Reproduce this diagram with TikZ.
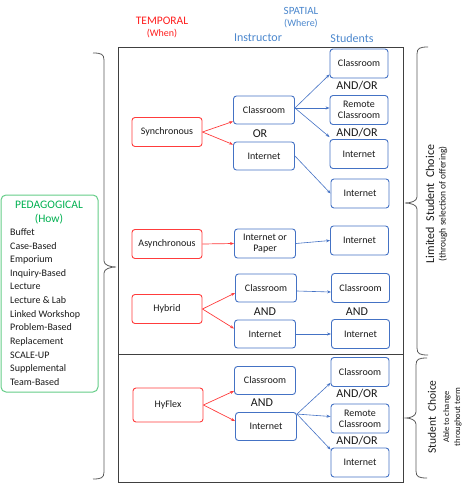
\documentclass[tikz,border=0pt]{standalone}
\usepackage{fontspec}
\setmainfont{Carlito}
\usetikzlibrary{arrows.meta}
\definecolor{tred}{RGB}{255,30,30}
\definecolor{bred}{RGB}{255,60,60}
\definecolor{bblue}{RGB}{68,114,196}
\definecolor{tblue}{RGB}{75,135,205}
\definecolor{pgreen}{RGB}{0,176,80}
\definecolor{gborder}{RGB}{100,205,135}
\definecolor{framec}{RGB}{64,64,64}
\definecolor{bracec}{RGB}{90,90,90}
\definecolor{txt}{RGB}{25,25,25}
\begin{document}
\begin{tikzpicture}[x=1pt,y=-1pt,
  redbox/.style={draw=bred, line width=0.9pt, rounded corners=3pt, minimum width=70pt, minimum height=29pt, inner sep=0pt, font=\fontsize{10}{11}\selectfont, text=txt, align=center},
  ibox/.style={draw=bblue, line width=0.9pt, rounded corners=3pt, minimum width=61pt, minimum height=28pt, inner sep=0pt, font=\fontsize{10}{11}\selectfont, text=txt, align=center},
  sbox/.style={ibox, minimum width=58pt, minimum height=29pt},
  conj/.style={font=\fontsize{12}{13}\selectfont, text=txt, inner sep=0pt},
  rarr/.style={draw=bred, line width=0.7pt, -{Stealth[length=4pt,width=3pt]}},
  barr/.style={draw=bblue, line width=0.6pt, -{Stealth[length=4pt,width=3pt]}},
  brc/.style={draw=bracec, line width=0.8pt},
  head/.style={inner sep=0pt},
]
\useasboundingbox (0,0) rectangle (467,484);

% frame
\draw[framec, line width=1pt] (118,48) rectangle (403,482);
\draw[framec, line width=1pt] (118,354) -- (403,354);

% headings
\node[head, text=tred, font=\fontsize{11.5}{12}\selectfont] (temp) at (162,21) {TEMPORAL};
\node[head, text=tred, font=\fontsize{10}{11}\selectfont] (when) at (162,34) {(When)};
\node[head, text=tblue, font=\fontsize{11}{12}\selectfont] (spat) at (301,11) {SPATIAL};
\node[head, text=tblue, font=\fontsize{10}{11}\selectfont] (where) at (301,24) {(Where)};
\node[head, text=tblue, font=\fontsize{12}{13}\selectfont] (instr) at (258,38) {Instructor};
\node[head, text=tblue, font=\fontsize{12}{13}\selectfont] (stud) at (352,38) {Students};

% pedagogical box
\node[draw=gborder, line width=1pt, rounded corners=5pt, minimum width=97pt, minimum height=197pt, inner sep=0pt] (ped) at (49.5,293.5) {};
\node[head, text=pgreen, font=\fontsize{11.5}{12}\selectfont] (pedt) at (49,205) {PEDAGOGICAL};
\node[head, text=pgreen, font=\fontsize{11.5}{12}\selectfont] (how) at (49,219.5) {(How)};
\node[head, anchor=west, align=left, text=txt, font=\fontsize{10}{13.64}\selectfont] (list) at (10,307) {Buffet\\Case-Based\\Emporium\\Inquiry-Based\\Lecture\\Lecture \& Lab\\Linked Workshop\\Problem-Based\\Replacement\\SCALE-UP\\Supplemental\\Team-Based};

% temporal boxes
\node[redbox] (sync) at (167,132) {Synchronous};
\node[redbox] (async) at (167,244) {Asynchronous};
\node[redbox] (hyb) at (167,309) {Hybrid};
\node[redbox, minimum height=34pt] (hyf) at (168,405) {HyFlex};

% instructor boxes
\node[ibox] (sc) at (264,110) {Classroom};
\node[ibox] (si) at (264,156) {Internet};
\node[ibox, minimum height=29pt] (ai) at (265,243.5) {Internet or\\Paper};
\node[ibox] (hc) at (266,288) {Classroom};
\node[ibox] (hi) at (265,334) {Internet};
\node[ibox] (fc) at (265,380.5) {Classroom};
\node[ibox] (fi) at (266,426.5) {Internet};

% student boxes
\node[sbox] (s1) at (359,63.5) {Classroom};
\node[sbox] (s2) at (359,110) {Remote\\Classroom};
\node[sbox] (s3) at (359,154) {Internet};
\node[sbox] (s4) at (360,193.5) {Internet};
\node[sbox] (as) at (359.5,240.5) {Internet};
\node[sbox] (hsc) at (360.5,288) {Classroom};
\node[sbox] (hsi) at (360.5,334) {Internet};
\node[sbox] (f1) at (360,372) {Classroom};
\node[sbox] (f2) at (360,418.5) {Remote\\Classroom};
\node[sbox] (f3) at (360,462.5) {Internet};

% conjunctions
\node[conj] (or1) at (260,133.5) {OR};
\node[conj] (ao1) at (357,85.5) {AND/OR};
\node[conj] (ao2) at (357,132.5) {AND/OR};
\node[conj] (and1) at (265,311.5) {AND};
\node[conj] (and2) at (357,311.5) {AND};
\node[conj] (and3) at (262,402.5) {AND};
\node[conj] (ao3) at (357,393.5) {AND/OR};
\node[conj] (ao4) at (357,440.5) {AND/OR};

% red arrows
\draw[rarr] (sync.east) -- ([yshift=3pt]sc.south west);
\draw[rarr] (sync.east) -- ([yshift=-3pt]si.north west);
\draw[rarr] (async.east) -- (ai.west);
\draw[rarr] (hyb.east) -- ([yshift=-5pt]hc.west);
\draw[rarr] (hyb.east) -- ([yshift=-9pt]hi.north west);
\draw[rarr] (hyf.east) -- ([yshift=4pt]fc.south west);
\draw[rarr] (hyf.east) -- ([yshift=-9pt]fi.north west);

% blue arrows
\draw[barr] ([yshift=2pt]sc.east) -- ([yshift=4pt]s1.south west);
\draw[barr] ([yshift=2pt]sc.east) -- ([yshift=2pt]s2.west);
\draw[barr] ([yshift=2pt]sc.east) -- ([yshift=2pt]s3.north west);
\draw[barr] (si.east) -- (s4.west);
\draw[barr] (ai.east) -- (as.west);
\draw[barr] ([yshift=-3pt]hc.east) -- ([yshift=-4pt]hsc.west);
\draw[barr] (hi.east) -- (hsi.west);
\draw[barr] ([yshift=-2pt]fi.north east) -- ([yshift=4pt]f1.south west);
\draw[barr] ([yshift=-2pt]fi.north east) -- ([yshift=2pt]f2.west);
\draw[barr] ([yshift=-2pt]fi.north east) -- ([yshift=-2pt]f3.north west);

% left brace
\draw[brc] (93,53) .. controls (101,53) and (104,54) .. (104,60) -- (104,261)
  .. controls (104,265) and (110,267) .. (116,267)
  .. controls (110,267) and (104,269) .. (104,273) -- (104,472)
  .. controls (104,478) and (101,479) .. (93,479);

% right upper brace
\draw[brc] (428,47) .. controls (420,47) and (417,48) .. (417,54) -- (417,197)
  .. controls (417,201) and (411,203) .. (405,203)
  .. controls (411,203) and (417,205) .. (417,209) -- (417,348)
  .. controls (417,354) and (420,355) .. (428,355);

% right lower brace
\draw[brc] (427,358) .. controls (419,358) and (416,359) .. (416,365) -- (416,412)
  .. controls (416,416) and (410,418) .. (406,418)
  .. controls (410,418) and (416,420) .. (416,424) -- (416,471)
  .. controls (416,477) and (419,478) .. (427,478);

% side labels
\node[head, rotate=90, text=txt, font=\fontsize{12}{13}\selectfont] (lsc) at (430,204) {Limited~ Student~ Choice};
\node[head, rotate=90, text=txt, font=\fontsize{9.5}{10}\selectfont] (lsc2) at (443,204) {(through selection of offering)};
\node[head, rotate=90, text=txt, font=\fontsize{11.5}{12}\selectfont] (sch) at (432,417) {Student~ Choice};
\node[head, rotate=90, text=txt, align=center, font=\fontsize{8.5}{11}\selectfont] (sch2) at (452.5,417) {Able to change\\throughout term};
\end{tikzpicture}
\end{document}
